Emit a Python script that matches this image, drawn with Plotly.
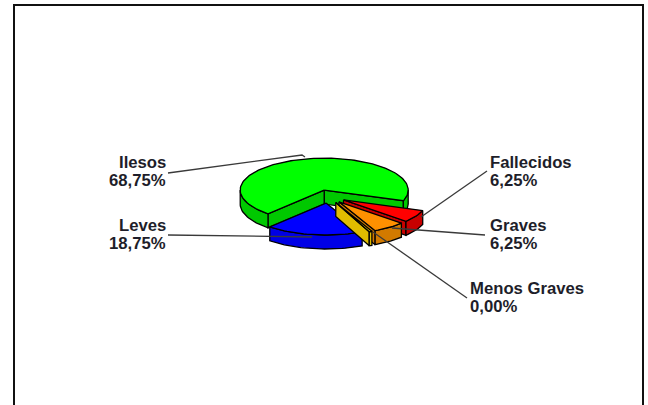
import math
import plotly.graph_objects as go

# Pie data, clockwise starting from the big slice
categories = ["Ilesos", "Fallecidos", "Graves", "Menos Graves", "Leves"]
values = [68.75, 6.25, 6.25, 0.00, 18.75]
value_labels = ["68,75%", "6,25%", "6,25%", "0,00%", "18,75%"]
top_colors = ["#00ff00", "#ff0000", "#ff9000", "#e6c800", "#0000ff"]
side_colors = ["#00c800", "#c80000", "#d27a00", "#e0bc00", "#0000e6"]

# 3D look of the pie
center_x, center_y = 328.5, 196.5
radius = 84
squash = 0.38
depth = 14
explode = 17.5
start_angle = 228
min_sweep = 2  # the 0% slice is still drawn as a thin sliver

draw_order = ["Ilesos", "Leves", "Fallecidos", "Graves", "Menos Graves"]


def project(cx, cy, angle, drop=0):
    rad = math.radians(angle)
    return cx + radius * math.cos(rad), cy - radius * squash * math.sin(rad) + drop


def arc(cx, cy, a_from, a_to, drop=0):
    steps = max(2, int(abs(a_to - a_from) / 2))
    return [project(cx, cy, a_from + (a_to - a_from) * i / steps, drop=drop) for i in range(steps + 1)]


def poly_trace(points, color):
    xs = [p[0] for p in points] + [points[0][0]]
    ys = [p[1] for p in points] + [points[0][1]]
    return go.Scatter(x=xs, y=ys, mode="lines", fill="toself", fillcolor=color,
                      line=dict(color="#000000", width=1.3), hoverinfo="skip", showlegend=False)


# Angle range of every slice, going clockwise
slices = {}
angle = start_angle
for name, val in zip(categories, values):
    sweep = val / 100 * 360
    slices[name] = (angle, angle - max(sweep, min_sweep))
    angle -= sweep

fig = go.Figure()

for name in draw_order:
    i = categories.index(name)
    high, low = slices[name]
    mid = (low + high) / 2
    cx = center_x + explode * math.cos(math.radians(mid))
    cy = center_y - explode * squash * math.sin(math.radians(mid))

    # Cut faces that look toward the viewer
    for a, normal in ((low, low - 90), (high, high + 90)):
        if math.sin(math.radians(normal)) < 0:
            edge = project(cx, cy, a)
            fig.add_trace(poly_trace([(cx, cy), edge, (edge[0], edge[1] + depth), (cx, cy + depth)], side_colors[i]))
    # Outer wall, only the part on the front half of the ellipse
    for front_from, front_to in ((-180, 0), (180, 360)):
        a_from, a_to = max(low, front_from), min(high, front_to)
        if a_from < a_to:
            pts = arc(cx, cy, a_from, a_to) + arc(cx, cy, a_to, a_from, drop=depth)
            fig.add_trace(poly_trace(pts, side_colors[i]))
    # Top
    fig.add_trace(poly_trace([(cx, cy)] + arc(cx, cy, low, high), top_colors[i]))

# Leader lines
leaders = [
    [(168, 173), (302, 155), (305, 157)],
    [(168, 235), (312, 237)],
    [(487, 171), (421, 217)],
    [(485, 235), (392, 228)],
    [(467, 298), (373, 232)],
]
for line in leaders:
    fig.add_trace(go.Scatter(x=[p[0] for p in line], y=[p[1] for p in line], mode="lines",
                             line=dict(color="#3a3a3a", width=1.3), hoverinfo="skip", showlegend=False))

# Labels, name and value are placed apart to get the tight line spacing
label_pos = {
    "Ilesos": (168, 162, "right"),
    "Leves": (168, 225, "right"),
    "Fallecidos": (488, 162, "left"),
    "Graves": (488, 225, "left"),
    "Menos Graves": (468, 288, "left"),
}
line_gap = 18
for name, val_text in zip(categories, value_labels):
    x, y, side = label_pos[name]
    for text, text_y in ((name, y), (val_text, y + line_gap)):
        fig.add_annotation(x=x, y=text_y, text=text, showarrow=False,
                           xanchor=side, yanchor="middle", align=side,
                           font=dict(family="Liberation Sans", size=16.7, color="#1e1e2a", weight=700))

# Frame, open at the bottom
fig.add_shape(type="path", path="M 14 405 L 14 5 L 643 5 L 643 405",
              line=dict(color="#111111", width=2))

fig.update_layout(
    width=648, height=405,
    margin=dict(l=0, r=0, t=0, b=0),
    paper_bgcolor="white", plot_bgcolor="white",
    xaxis=dict(range=[0, 648], visible=False, fixedrange=True),
    yaxis=dict(range=[405, 0], visible=False, fixedrange=True),
    showlegend=False,
)

# Drop the default body margin so the figure fills the window
fig.write_html("out.html", config=dict(displayModeBar=False),
               post_script="document.body.style.margin='0';document.body.style.overflow='hidden';")
